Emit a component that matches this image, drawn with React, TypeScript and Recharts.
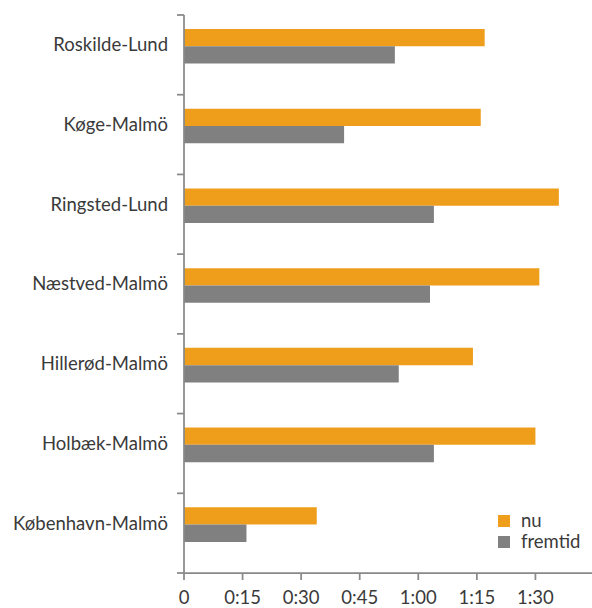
import React from "react";
import { BarChart, Bar, XAxis, YAxis, Legend } from "recharts";

// travel times in minutes, top to bottom
const routes = [
  "Roskilde-Lund",
  "Køge-Malmö",
  "Ringsted-Lund",
  "Næstved-Malmö",
  "Hillerød-Malmö",
  "Holbæk-Malmö",
  "København-Malmö",
];
const nu = [77, 76, 96, 91, 74, 90, 34];
const fremtid = [54, 41, 64, 63, 55, 64, 16];
const minuteTicks = [0, 15, 30, 45, 60, 75, 90];
const seriesOrder = ["nu", "fremtid"];

const ORANGE = "#EF9E1C";
const GREY = "#808080";
const AXIS = "#898989";
const TEXT = "#3a3a3a";
const FONT = "Lato, 'DejaVu Sans', sans-serif";

const W = 600;
const H = 608;
const AXIS_X = 184;
const PLOT_TOP = 15;
const AXIS_H = 35;
const STEP = (H - AXIS_H - PLOT_TOP) / routes.length;

const data = routes.map((route, i) => ({ route, nu: nu[i], fremtid: fremtid[i] }));

function fmt(m: number) {
  if (m === 0) return "0";
  const h = Math.floor(m / 60);
  const mm = m % 60;
  return `${h}:${String(mm).padStart(2, "0")}`;
}

// category labels sit level with the bar pair, tick marks sit between categories
function RouteTick(props: any) {
  const { y, payload } = props;
  const top = y - STEP / 2;
  const last = payload.value === routes[routes.length - 1];
  return (
    <g>
      <line x1={AXIS_X - 7} x2={AXIS_X} y1={top} y2={top} stroke={AXIS} strokeWidth={1.75} />
      {last && (
        <line x1={AXIS_X - 7} x2={AXIS_X} y1={y + STEP / 2} y2={y + STEP / 2} stroke={AXIS} strokeWidth={1.75} />
      )}
      <text
        x={AXIS_X - 16}
        y={y - 10}
        dy="0.35em"
        textAnchor="end"
        fill={TEXT}
        fontSize={18.5}
        fontFamily={FONT}
      >
        {payload.value}
      </text>
    </g>
  );
}

function MinuteTick(props: any) {
  const { x, y, payload } = props;
  return (
    <text x={x} y={y + 16} dy="0.35em" textAnchor="middle" fill={TEXT} fontSize={18.5} fontFamily={FONT}>
      {fmt(payload.value)}
    </text>
  );
}

function LegendBox(props: any) {
  const items = (props.payload || [])
    .filter((p: any) => p.type !== "none")
    .sort((a: any, b: any) => seriesOrder.indexOf(a.value) - seriesOrder.indexOf(b.value));
  return (
    <div style={{ fontFamily: FONT, fontSize: 18.5, color: TEXT, lineHeight: "21px" }}>
      {items.map((p: any) => (
        <div key={p.value} style={{ display: "flex", alignItems: "center" }}>
          <span style={{ width: 12, height: 12, background: p.color, display: "inline-block", marginRight: 11 }} />
          <span>{p.value}</span>
        </div>
      ))}
    </div>
  );
}

export default function App() {
  return (
    <div style={{ position: "absolute", left: 0, top: 0, width: 592, height: 608, overflow: "hidden", background: "#fff" }}>
      <BarChart
        width={W}
        height={H}
        data={data}
        layout="vertical"
        margin={{ top: PLOT_TOP, right: 6, bottom: 0, left: 0 }}
        barGap={0}
      >
        <XAxis
          type="number"
          domain={[0, 105]}
          ticks={minuteTicks}
          allowDataOverflow
          stroke={AXIS}
          strokeWidth={1.75}
          tickSize={7}
          height={AXIS_H}
          tick={<MinuteTick />}
        />
        <YAxis
          type="category"
          dataKey="route"
          width={AXIS_X}
          stroke={AXIS}
          strokeWidth={1.75}
          tickLine={false}
          tick={<RouteTick />}
          interval={0}
        />
        <Legend
          layout="horizontal"
          verticalAlign="middle"
          align="center"
          content={<LegendBox />}
          wrapperStyle={{ position: "absolute", left: 498, top: 510, width: "auto", height: "auto" }}
        />
        <Bar dataKey="nu" name="nu" fill={ORANGE} barSize={17.3} isAnimationActive={false} />
        <Bar dataKey="fremtid" name="fremtid" fill={GREY} barSize={17.3} isAnimationActive={false} />
        {/* empty third slot keeps the pair in the upper part of each band */}
        <Bar dataKey="tom" legendType="none" fill="none" barSize={17.3} isAnimationActive={false} />
      </BarChart>
    </div>
  );
}
